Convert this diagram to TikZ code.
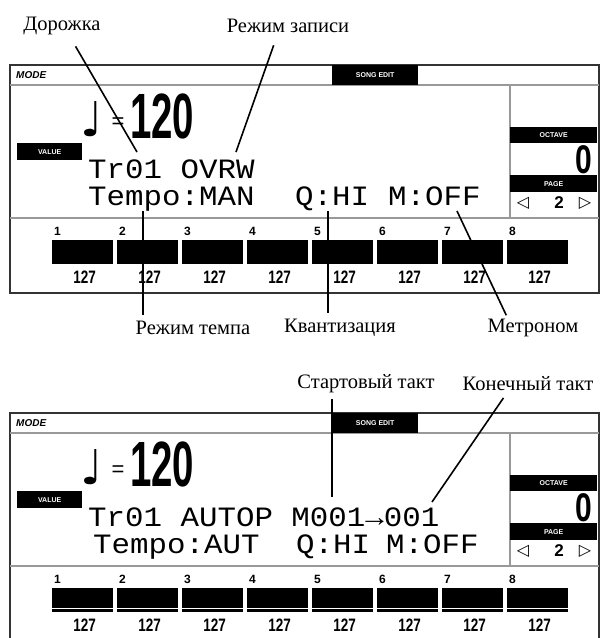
\documentclass[tikz,border=0pt]{standalone}
\usepackage{fontspec}
\setmainfont{Liberation Serif}
\newfontfamily\lcdfont[FakeStretch=1.1]{Liberation Mono}
\newfontfamily\tagfont{Liberation Sans}
\newfontfamily\symfont{DejaVu Sans}
\usetikzlibrary{positioning,calc}

\begin{document}
\begin{tikzpicture}[x=1pt, y=-1pt, >=stealth,
  lbl/.style={font=\fontsize{20.5}{24}\selectfont, inner sep=0pt},
  lcd/.style={font=\lcdfont\fontsize{28}{28}\selectfont, inner sep=0pt, anchor=base west},
  tag/.style={fill=black, text=white, font=\tagfont\bfseries\fontsize{7}{8}\selectfont, inner sep=0pt, anchor=north west},
  frm/.style={line width=1.6pt, black!80},
  rule/.style={line width=1.6pt, black!40},
  lead/.style={line width=1.6pt},
  chn/.style={font=\tagfont\bfseries\fontsize{12}{12}\selectfont, inner sep=0pt},
  vel/.style={font=\tagfont\bfseries\fontsize{18}{18}\selectfont, inner sep=0pt}]
\useasboundingbox (0,0) rectangle (602,638);
% both screens share frame, tags, tempo and the 8 track bars
\foreach \s/\dy in {a/0, b/348} {
\begin{scope}[yshift=-\dy pt]
\draw[frm] (10,65) rectangle (599,293);
\draw[rule] (10,85) -- (599,85);
\draw[rule] (510,85) -- (510,218);
\draw[rule] (10,218) -- (599,218);
\node[font=\tagfont\bfseries\itshape\fontsize{10}{10}\selectfont, anchor=west, inner sep=0pt] (mode-\s) at (16,75) {MODE};
\node[tag, minimum width=86pt, minimum height=20pt] (edit-\s) at (332,65) {SONG EDIT};
\node[tag, minimum width=65pt, minimum height=17pt] (value-\s) at (17,143) {VALUE};
\node[tag, minimum width=87pt, minimum height=16pt] (oct-\s) at (510,127) {OCTAVE};
\node[tag, minimum width=87pt, minimum height=17pt] (page-\s) at (510,175) {PAGE};
\node[font=\tagfont\bfseries\fontsize{40}{40}\selectfont, inner sep=0pt] (ov-\s) at (584,160) {\scalebox{0.75}[1]{0}};
\node[font=\symfont\fontsize{16}{16}\selectfont, inner sep=0pt] (pl-\s) at (523,203) {◁};
\node[font=\tagfont\bfseries\fontsize{17}{17}\selectfont, inner sep=0pt] (pn-\s) at (559,203) {2};
\node[font=\symfont\fontsize{16}{16}\selectfont, inner sep=0pt] (pr-\s) at (585,203) {▷};
\node[font=\symfont\fontsize{48}{48}\selectfont, inner sep=0pt, anchor=south west] (note-\s) at (80,137) {♩};
\node[font=\tagfont\fontsize{22}{22}\selectfont, inner sep=0pt] (eq-\s) at (118,123) {=};
\node[font=\tagfont\bfseries\fontsize{64}{64}\selectfont, inner sep=0pt, anchor=base west] (bpm-\s) at (130,138) {\scalebox{0.6}[1]{120}};
\foreach \i in {1,...,8} {
  \node[fill=black, minimum width=61pt, minimum height=24pt, inner sep=0pt, anchor=north west] (bar-\s\i) at ({52+65*(\i-1)},240) {};
  \node[chn, anchor=south west] (chn-\s\i) at ([xshift=2pt, yshift=4pt]bar-\s\i.north west) {\i};
  \node[vel, below=6pt of bar-\s\i, xshift=2pt] (vel-\s\i) {\scalebox{0.75}[1]{127}};
}
\end{scope}
}
\draw[white, line width=1.5pt] ([yshift=4pt]bar-b1.south west) -- ([yshift=4pt]bar-b8.south east);

% screen texts
\node[lcd] (trk-a) at (88,178) {Tr01 OVRW};
\node[lcd] (tmp-a) at (88,205) {Tempo:MAN};
\node[lcd] (q-a) at (295,205) {Q:HI};
\node[lcd] (m-a) at (388,205) {M:OFF};
\node[lcd] (trk-b) at (88,526) {Tr01 AUTOP M001→001};
\node[lcd] (tmp-b) at (93,553) {Tempo:AUT};
\node[lcd] (q-b) at (296,553) {Q:HI};
\node[lcd] (m-b) at (386,553) {M:OFF};

% labels and leader lines
\node[lbl] (lbl-trk) at (62,26) {Дорожка};
\node[lbl] (lbl-rec) at (288,26) {Режим записи};
\node[lbl] (lbl-tmp) at (193,328) {Режим темпа};
\node[lbl] (lbl-qnt) at (340,328) {Квантизация};
\node[lbl] (lbl-met) at (533,328) {Метроном};
\node[lbl] (lbl-beg) at (366,384) {Стартовый такт};
\node[lbl] (lbl-end) at (528,384) {Конечный такт};
\coordinate (trk-pt) at (137,152);
\coordinate (rec-pt) at (236,152);
\coordinate (tmp-pt) at (143,211);
\coordinate (qnt-pt) at (328,211);
\coordinate (met-pt) at (457,211);
\coordinate (beg-pt) at (332,497);
\coordinate (end-pt) at (432,502);
\draw[lead, shorten <=13pt] ([xshift=7pt]lbl-trk.south) -- (trk-pt);
\draw[lead, shorten <=13pt] ([xshift=-10pt]lbl-rec.south) -- (rec-pt);
\draw[lead, shorten >=6pt] (tmp-pt) -- (tmp-pt |- lbl-tmp.north);
\draw[lead, shorten >=6pt] (qnt-pt) -- (qnt-pt |- lbl-qnt.north);
\draw[lead, shorten >=4pt] (met-pt) -- ([xshift=-25pt]lbl-met.north);
\draw[lead, shorten <=6pt] (lbl-beg.south -| beg-pt) -- (beg-pt);
\draw[lead, shorten <=8pt] ([xshift=-20pt]lbl-end.south) -- (end-pt);
\end{tikzpicture}
\end{document}
